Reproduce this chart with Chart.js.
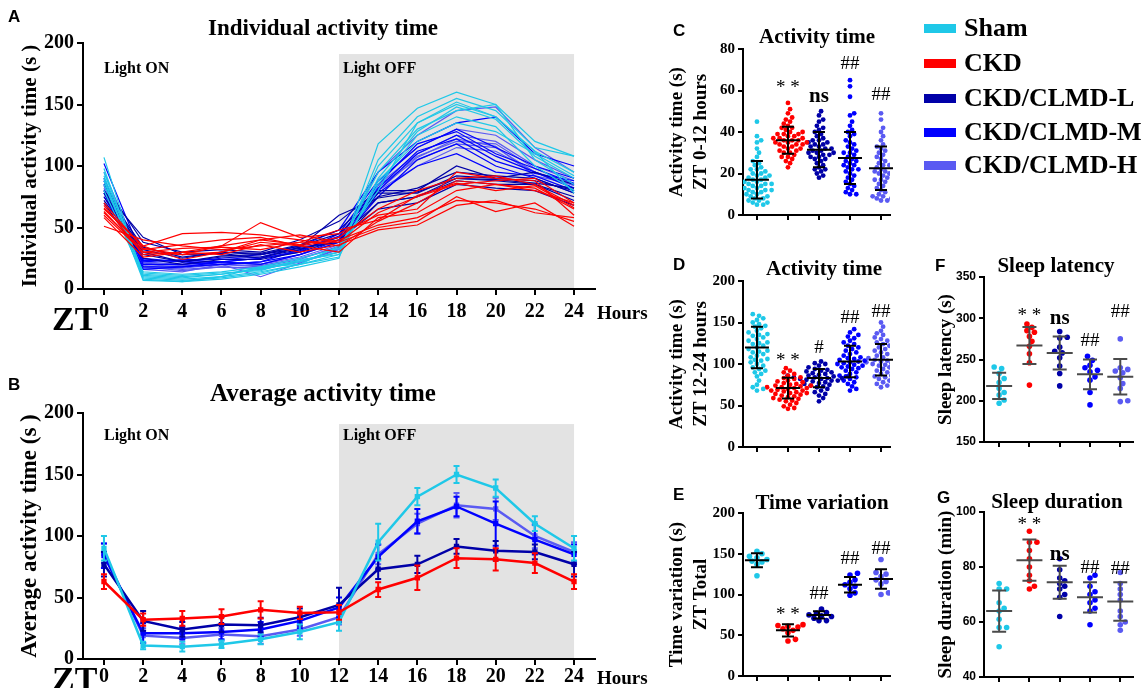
<!DOCTYPE html>
<html>
<head>
<meta charset="utf-8">
<script src="https://cdn.jsdelivr.net/npm/chart.js@4.4.1/dist/chart.umd.min.js"></script>
<style>
  body { margin: 0; background: #fff; }
  #page { position: relative; width: 1146px; height: 688px; overflow: hidden; font-family: "Liberation Serif", serif; }
  canvas { position: absolute; }
  .t { position: absolute; font-weight: bold; white-space: nowrap; line-height: 1; }
  .lab { font-family: "Liberation Sans", sans-serif; font-size: 17px; }
  .ttl { font-size: 23px; transform: translateX(-50%); }
  .ttlb { font-size: 25px; transform: translateX(-50%); }
  .sub { font-size: 21px; transform: translateX(-50%); }
  .light { font-size: 16px; }
  .zt { font-size: 34px; }
  .hrs { font-size: 19px; }
  .leg { position: absolute; left: 924px; font-weight: bold; font-size: 26px; line-height: 1; white-space: nowrap; }
  .leg i { display: inline-block; width: 32px; height: 9px; margin-right: 8px; vertical-align: middle; position: relative; top: -2px; }
</style>
</head>
<body>
<div id="page">
  <canvas id="chartA" width="650" height="330" style="left:0;top:0"></canvas>
  <canvas id="chartB" width="650" height="318" style="left:0;top:370px"></canvas>
  <canvas id="chartC" width="250" height="235" style="left:660px;top:0"></canvas>
  <canvas id="chartD" width="250" height="235" style="left:660px;top:235px"></canvas>
  <canvas id="chartE" width="250" height="218" style="left:660px;top:470px"></canvas>
  <canvas id="chartF" width="236" height="235" style="left:910px;top:235px"></canvas>
  <canvas id="chartG" width="236" height="218" style="left:910px;top:470px"></canvas>

  <div class="t lab" style="left:8px;top:8px">A</div>
  <div class="t ttl" style="left:323px;top:16px">Individual activity time</div>
  <div class="t light" style="left:104px;top:60px">Light ON</div>
  <div class="t light" style="left:343px;top:60px">Light OFF</div>
  <div class="t zt" style="left:52px;top:302px">ZT</div>
  <div class="t hrs" style="left:597px;top:303px">Hours</div>

  <div class="t lab" style="left:8px;top:376px">B</div>
  <div class="t ttlb" style="left:323px;top:380px">Average activity time</div>
  <div class="t light" style="left:104px;top:427px">Light ON</div>
  <div class="t light" style="left:343px;top:427px">Light OFF</div>
  <div class="t zt" style="left:52px;top:662px">ZT</div>
  <div class="t hrs" style="left:597px;top:668px">Hours</div>

  <div class="t lab" style="left:673px;top:22px">C</div>
  <div class="t sub" style="left:817px;top:26px">Activity time</div>
  <div class="t lab" style="left:673px;top:256px">D</div>
  <div class="t sub" style="left:824px;top:258px">Activity time</div>
  <div class="t lab" style="left:673px;top:486px">E</div>
  <div class="t sub" style="left:822px;top:492px">Time variation</div>
  <div class="t lab" style="left:935px;top:257px">F</div>
  <div class="t sub" style="left:1056px;top:255px">Sleep latency</div>
  <div class="t lab" style="left:937px;top:489px">G</div>
  <div class="t sub" style="left:1057px;top:491px">Sleep duration</div>

  <div id="legend"></div>
</div>

<script>
'use strict';

// ZT hours on the x axis of A and B
const zt = [0, 2, 4, 6, 8, 10, 12, 14, 16, 18, 20, 22, 24];
const groups = ['Sham', 'CKD', 'CKD/CLMD-L', 'CKD/CLMD-M', 'CKD/CLMD-H'];
const yTicksAB = [0, 50, 100, 150, 200];

// A: individual mice, activity time (s) at each ZT
const shamLines = [
  [107, 8, 6, 8, 12, 18, 25, 118, 147, 160, 150, 120, 108],
  [98, 10, 8, 10, 14, 20, 28, 105, 140, 155, 145, 115, 108],
  [92, 12, 10, 12, 16, 22, 30, 100, 135, 152, 140, 112, 95],
  [88, 9, 7, 9, 13, 20, 26, 90, 128, 148, 138, 108, 90],
  [85, 14, 12, 14, 18, 25, 33, 95, 130, 145, 150, 105, 85],
  [80, 11, 9, 12, 17, 23, 30, 85, 125, 140, 132, 100, 80],
  [95, 13, 11, 13, 15, 24, 28, 88, 120, 135, 128, 110, 92],
  [90, 7, 6, 10, 18, 20, 35, 80, 135, 150, 140, 112, 78]
];
const ckdLines = [
  [68, 28, 30, 35, 54, 42, 45, 60, 65, 95, 90, 88, 60],
  [65, 35, 45, 46, 44, 40, 35, 55, 70, 88, 85, 80, 70],
  [60, 30, 28, 30, 38, 35, 40, 52, 58, 72, 70, 65, 55],
  [51, 40, 35, 32, 35, 38, 38, 50, 55, 75, 63, 70, 51],
  [70, 33, 28, 35, 40, 36, 42, 65, 80, 90, 92, 85, 68],
  [62, 32, 36, 40, 42, 35, 30, 58, 62, 80, 85, 82, 65],
  [58, 26, 30, 28, 36, 30, 36, 48, 52, 68, 72, 62, 58],
  [66, 35, 24, 30, 40, 44, 38, 62, 75, 85, 88, 90, 70],
  [63, 30, 33, 34, 32, 38, 48, 56, 76, 86, 80, 84, 66]
];
const lowLines = [
  [85, 38, 30, 32, 30, 40, 55, 80, 80, 100, 90, 95, 85],
  [72, 28, 22, 26, 26, 32, 42, 70, 75, 88, 85, 85, 72],
  [78, 32, 25, 30, 28, 35, 45, 75, 82, 95, 92, 90, 78],
  [70, 25, 20, 24, 24, 30, 40, 65, 70, 85, 82, 80, 68],
  [80, 34, 26, 30, 29, 36, 48, 78, 78, 92, 90, 88, 80],
  [75, 30, 22, 27, 28, 33, 38, 70, 75, 90, 88, 85, 75],
  [80, 42, 28, 29, 25, 34, 60, 74, 79, 90, 89, 86, 82]
];
const midLines = [
  [102, 25, 22, 25, 28, 35, 48, 95, 120, 135, 140, 110, 100],
  [90, 20, 20, 22, 25, 30, 45, 88, 115, 130, 115, 100, 90],
  [80, 18, 18, 20, 22, 28, 40, 80, 110, 125, 108, 95, 82],
  [75, 22, 24, 24, 26, 34, 38, 75, 105, 118, 100, 90, 78],
  [85, 24, 22, 20, 22, 32, 42, 85, 118, 128, 110, 98, 86],
  [78, 16, 18, 22, 20, 28, 38, 78, 100, 110, 95, 92, 80],
  [88, 23, 23, 22, 25, 31, 43, 82, 112, 122, 104, 94, 88]
];
const highLines = [
  [95, 22, 20, 22, 20, 28, 38, 95, 125, 145, 148, 115, 95],
  [88, 18, 15, 18, 16, 22, 32, 88, 115, 130, 125, 105, 90],
  [82, 16, 14, 20, 18, 24, 35, 82, 108, 120, 118, 98, 85],
  [78, 20, 18, 22, 20, 26, 36, 80, 100, 115, 112, 95, 82],
  [90, 19, 16, 18, 17, 22, 30, 85, 110, 125, 120, 100, 88],
  [85, 21, 19, 20, 19, 25, 34, 84, 105, 118, 115, 95, 84],
  [84, 17, 17, 20, 10, 21, 33, 80, 107, 122, 116, 92, 85]
];

// B: group mean and SD at each ZT
const shamAvg = [90, 11, 10, 12, 16, 22, 30, 95, 132, 150, 139, 110, 90];
const shamSd  = [10, 3, 4, 3, 4, 6, 7, 15, 7, 7, 7, 6, 10];
const ckdAvg  = [63, 32, 33, 34.5, 40, 37.5, 38, 56.5, 66, 82, 81, 78, 63];
const ckdSd   = [6, 5, 6, 6, 7, 5, 6, 6, 10, 8, 9, 8, 6];
const lowAvg  = [77, 31, 24, 28, 27.5, 34, 44, 73, 77, 91.5, 88, 87, 77];
const lowSd   = [10, 8, 6, 6, 6, 7, 14, 8, 7, 6, 8, 6, 10];
const midAvg  = [84, 21, 21, 22, 24, 31, 42, 83, 112, 124, 110, 97, 85];
const midSd   = [10, 8, 5, 6, 6, 6, 8, 10, 10, 8, 18, 12, 8];
const highAvg = [86, 19, 17, 20, 18.5, 24, 34, 85, 110, 125, 122, 100, 87];
const highSd  = [8, 6, 5, 5, 6, 5, 6, 8, 8, 10, 9, 10, 8];

// C: activity time ZT 0-12 (s), one value per mouse-day
const cSham = [45, 38, 36, 35, 32, 30, 28, 26, 25, 24, 23, 22, 21, 20, 20, 19, 18, 18, 17, 16, 16, 15, 15, 14, 14, 13, 13, 12, 12, 11, 11, 10, 10, 9, 9, 8, 8, 7, 7, 6, 6, 5, 5, 12, 15, 17, 19, 22];
const cCkd  = [54, 51, 49, 47, 46, 45, 44, 43, 42, 42, 41, 40, 40, 39, 39, 38, 38, 37, 37, 36, 36, 36, 35, 35, 35, 34, 34, 33, 33, 32, 32, 31, 31, 30, 30, 29, 28, 28, 27, 26, 25, 23, 37, 34, 39];
const cLow  = [50, 48, 46, 45, 43, 42, 41, 40, 39, 38, 37, 36, 35, 35, 34, 33, 33, 32, 32, 31, 31, 30, 30, 29, 29, 28, 27, 27, 26, 25, 24, 23, 22, 22, 21, 20, 19, 18, 34, 36, 30, 28];
const cMid  = [65, 62, 57, 49, 48, 45, 43, 41, 40, 39, 38, 36, 35, 34, 33, 32, 31, 30, 29, 28, 27, 26, 25, 24, 24, 23, 22, 21, 20, 19, 18, 17, 16, 15, 14, 13, 12, 11, 10, 10, 30, 26, 22];
const cHigh = [49, 46, 42, 40, 38, 36, 34, 33, 32, 31, 30, 29, 28, 27, 26, 25, 24, 23, 22, 21, 21, 20, 19, 18, 17, 16, 15, 14, 13, 12, 11, 10, 9, 9, 8, 8, 7, 7, 24, 20, 17];
const cMean = [17, 36, 31.5, 27.5, 22.5];
const cSd   = [9, 6.5, 8.5, 12.5, 10.5];

// D: activity time ZT 12-24 (s)
const dSham = [160, 158, 155, 153, 150, 148, 146, 145, 143, 140, 138, 136, 134, 132, 130, 128, 126, 124, 122, 120, 118, 116, 114, 112, 110, 108, 106, 104, 102, 100, 98, 96, 94, 92, 90, 88, 85, 80, 75, 72, 70, 68, 125, 115, 135, 105];
const dCkd  = [95, 92, 90, 88, 86, 84, 83, 82, 80, 79, 78, 77, 76, 75, 74, 73, 72, 71, 71, 70, 69, 68, 67, 66, 65, 64, 63, 62, 61, 60, 59, 58, 57, 56, 55, 53, 51, 49, 47, 46, 72, 68, 74, 65];
const dLow  = [103, 101, 100, 98, 96, 94, 93, 92, 91, 90, 89, 88, 87, 86, 85, 85, 84, 84, 83, 83, 82, 82, 81, 80, 79, 78, 77, 76, 75, 74, 73, 72, 70, 68, 66, 64, 62, 59, 55, 86, 80];
const dMid  = [142, 138, 135, 133, 131, 128, 126, 124, 122, 120, 118, 116, 114, 112, 110, 108, 106, 105, 104, 103, 102, 101, 100, 99, 98, 96, 95, 94, 92, 90, 88, 86, 85, 84, 82, 80, 78, 76, 73, 70, 68, 107, 97];
const dHigh = [150, 145, 140, 137, 135, 132, 130, 128, 126, 124, 122, 120, 118, 116, 114, 112, 110, 108, 106, 105, 104, 103, 102, 101, 100, 98, 96, 94, 92, 90, 88, 86, 85, 84, 82, 80, 78, 76, 74, 72, 107, 99];
const dMean = [120, 71, 83, 103, 105];
const dSd   = [25, 12.5, 11, 19, 19];

// E: time variation, ZT total (s)
const eSham = [153, 150, 147, 145, 143, 141, 140, 137, 123];
const eCkd  = [63, 62, 61, 60, 58, 56, 53, 45, 43];
const eLow  = [82, 78, 77, 75, 74, 73, 71, 68, 68];
const eMid  = [126, 124, 118, 115, 112, 110, 107, 102, 99];
const eHigh = [143, 127, 125, 122, 118, 116, 113, 102, 100];
const eMean = [142, 56, 75, 112, 119];
const eSd   = [8.5, 7.5, 4.5, 9.5, 12];

// F: sleep latency (s)
const fSham = [241, 239, 233, 227, 222, 215, 210, 207, 201, 197];
const fCkd  = [293, 289, 285, 283, 278, 272, 266, 257, 246, 219];
const fLow  = [284, 277, 276, 265, 260, 258, 252, 242, 233, 218];
const fMid  = [254, 249, 243, 240, 237, 235, 229, 225, 210, 195];
const fHigh = [275, 240, 238, 236, 234, 228, 221, 215, 200, 199];
const fMean = [218, 267, 258, 232, 229];
const fSd   = [16, 22.5, 20, 18, 21.5];

// G: sleep duration (min)
const gSham = [74, 72, 72, 67, 65, 64, 61, 58, 58, 51];
const gCkd  = [93, 89, 89, 86, 83, 80, 77, 75, 73, 72];
const gLow  = [83, 79, 76, 75, 74, 73, 72, 70, 69, 62];
const gMid  = [77, 76, 73, 71, 70, 68, 67, 65, 64, 59];
const gHigh = [78, 74, 72, 70, 68, 64, 62, 60, 59, 57];
const gMean = [64, 82.5, 74.5, 69, 67.5];
const gSd   = [7.5, 7.5, 6, 5.5, 7];

// significance marks and the value they sit at
const cMarks = ['', '**', 'ns', '##', '##'];   const cMarkY = [0, 63, 57, 73, 58];
const dMarks = ['', '**', '#', '##', '##'];    const dMarkY = [0, 109, 119, 156, 163];
const eMarks = ['', '**', '##', '##', '##'];   const eMarkY = [0, 80, 101, 143, 156];
const fMarks = ['', '**', 'ns', '##', '##'];   const fMarkY = [0, 308, 300, 272, 308];
const gMarks = ['', '**', 'ns', '##', '##'];   const gMarkY = [0, 96.7, 84.5, 79.6, 79.4];

// ---------------------------------------------------------------
const palette = ['#1fc8e8', '#ff0000', '#0000a8', '#0000ff', '#5a5af2'];
const serif = '"Liberation Serif", "Times New Roman", serif';
const sans = '"Liberation Sans", Arial, sans-serif';

Chart.defaults.font.family = serif;
Chart.defaults.font.weight = 'bold';
Chart.defaults.color = '#000';
Chart.defaults.animation = false;

// legend
document.getElementById('legend').innerHTML = groups.map((g, i) =>
  `<div class="leg" style="top:${[15, 50, 85, 119, 152][i]}px"><i style="background:${palette[i]}"></i>${g}</div>`
).join('');

const toXY = vals => vals.map((v, i) => ({x: zt[i], y: v}));

const bandPlugin = {
  id: 'band',
  beforeDraw(chart) {
    const {ctx, scales: {x, y}} = chart;
    const x0 = x.getPixelForValue(12), x1 = x.getPixelForValue(24);
    const y0 = y.getPixelForValue(191), y1 = y.getPixelForValue(0);
    ctx.save();
    ctx.fillStyle = '#e3e3e3';
    ctx.fillRect(x0, y0, x1 - x0, y1 - y0);
    ctx.restore();
  }
};

const errPlugin = {
  id: 'err',
  afterDatasetDraw(chart, args) {
    const ds = chart.data.datasets[args.index];
    if (!ds.sd) return;
    const {ctx, scales: {y}} = chart;
    ctx.save();
    ctx.strokeStyle = ds.borderColor;
    ctx.lineWidth = 2;
    args.meta.data.forEach((pt, i) => {
      const v = ds.data[i].y;
      const top = y.getPixelForValue(v + ds.sd[i]);
      const bot = y.getPixelForValue(v - ds.sd[i]);
      ctx.beginPath();
      ctx.moveTo(pt.x, top); ctx.lineTo(pt.x, bot);
      ctx.moveTo(pt.x - 3, top); ctx.lineTo(pt.x + 3, top);
      ctx.moveTo(pt.x - 3, bot); ctx.lineTo(pt.x + 3, bot);
      ctx.stroke();
    });
    ctx.restore();
  }
};

function axisGrid(len) {
  return {drawOnChartArea: false, drawTicks: true, tickLength: len, color: '#000', lineWidth: 2};
}

function timeChart(id, datasets, yTitle, titleSize, titlePad, tickPad) {
  const cv = document.getElementById(id);
  return new Chart(cv, {
    type: 'line',
    data: {datasets},
    options: {
      responsive: false,
      layout: {padding: {left: 0, top: 43, right: 55, bottom: 0}},
      plugins: {legend: {display: false}, tooltip: {enabled: false}},
      elements: {line: {tension: 0}},
      scales: {
        x: {
          type: 'linear', min: -1.07, max: 25.07,
          afterBuildTicks: s => { s.ticks = zt.map(v => ({value: v})); },
          afterFit: s => { s.height = cv.height - 289; },
          grid: axisGrid(6),
          border: {color: '#000', width: 2},
          ticks: {font: {size: 20, weight: 'bold'}, padding: tickPad, maxRotation: 0}
        },
        y: {
          min: 0, max: 200,
          afterBuildTicks: s => { s.ticks = yTicksAB.map(v => ({value: v})); },
          afterFit: s => { s.width = 83; },
          grid: axisGrid(6),
          border: {color: '#000', width: 2},
          ticks: {font: {size: 20, weight: 'bold'}, padding: 3},
          title: {display: true, text: yTitle, font: {size: titleSize, weight: 'bold'}, padding: {top: titlePad}}
        }
      }
    },
    plugins: [bandPlugin, errPlugin]
  });
}

// A: individual lines (CKD drawn on top)
const lineSets = [ckdLines, shamLines, lowLines, midLines, highLines];
const lineColors = [palette[1], palette[0], palette[2], palette[3], palette[4]];
const aSets = [];
lineSets.forEach((set, g) => set.forEach(vals => aSets.push({
  data: toXY(vals), borderColor: lineColors[g], borderWidth: 1.2, pointRadius: 0, fill: false
})));
timeChart('chartA', aSets, 'Individual activity time (s )', 21, 18, 5);

// B: averages with SD bars
const avgSets = [
  [ckdAvg, ckdSd, palette[1]],
  [shamAvg, shamSd, palette[0]],
  [lowAvg, lowSd, palette[2]],
  [midAvg, midSd, palette[3]],
  [highAvg, highSd, palette[4]]
].map(([m, sd, c]) => ({
  data: toXY(m), sd, borderColor: c, backgroundColor: c, borderWidth: 2.5,
  pointRadius: 2, pointStyle: 'rect', fill: false
}));
timeChart('chartB', avgSets, 'Average activity time (s )', 23, 16, 0);

// dot plots -------------------------------------------------------
function swarm(vals, cat, pxY, pxX, gap) {
  const placed = [];
  return vals.slice().sort((a, b) => a - b).map(v => {
    const py = v * pxY;
    let off = 0;
    for (let k = 0; k < 80; k++) {
      const o = (k % 2 ? 1 : -1) * Math.ceil(k / 2) * gap / 2.2;
      if (placed.every(p => Math.hypot(p.x - o, p.y - py) >= gap)) { off = o; break; }
    }
    placed.push({x: off, y: py});
    return {x: cat + off / pxX, y: v};
  });
}

function statsPlugin(o) {
  return {
    id: 'stats',
    afterDatasetsDraw(chart) {
      const {ctx, scales: {x, y}} = chart;
      ctx.save();
      ctx.strokeStyle = o.barColor;
      ctx.lineWidth = 2;
      o.mean.forEach((m, i) => {
        const cx = x.getPixelForValue(i);
        const ym = y.getPixelForValue(m);
        const yt = y.getPixelForValue(m + o.sd[i]);
        const yb = y.getPixelForValue(m - o.sd[i]);
        ctx.beginPath();
        ctx.moveTo(cx - o.mw, ym); ctx.lineTo(cx + o.mw, ym);
        ctx.moveTo(cx, yt); ctx.lineTo(cx, yb);
        ctx.moveTo(cx - o.cw, yt); ctx.lineTo(cx + o.cw, yt);
        ctx.moveTo(cx - o.cw, yb); ctx.lineTo(cx + o.cw, yb);
        ctx.stroke();
      });
      ctx.fillStyle = '#000';
      ctx.textAlign = 'center';
      ctx.textBaseline = 'middle';
      o.marks.forEach((t, i) => {
        if (!t) return;
        ctx.font = t === 'ns' ? `bold 21px ${serif}` : `19px ${serif}`;
        const ty = y.getPixelForValue(o.markY[i]) + (t === '**' ? 4 : 0);
        ctx.fillText(t === '**' ? '* *' : t, x.getPixelForValue(i), ty);
      });
      ctx.restore();
    }
  };
}

function dotPanel(id, o) {
  const cv = document.getElementById(id);
  const pxY = (o.bottom - o.top) / (o.max - o.min);
  const datasets = o.sets.map((vals, i) => ({
    data: swarm(vals, i, pxY, o.step, o.gap),
    backgroundColor: palette[i], borderWidth: 0, pointRadius: o.r
  }));
  return new Chart(cv, {
    type: 'scatter',
    data: {datasets},
    options: {
      responsive: false,
      layout: {padding: {left: 0, top: o.top, right: cv.width - o.right, bottom: 0}},
      plugins: {legend: {display: false}, tooltip: {enabled: false}},
      scales: {
        x: {
          type: 'linear', min: o.xmin, max: o.xmax,
          afterBuildTicks: s => { s.ticks = groups.map((g, i) => ({value: i})); },
          afterFit: s => { s.height = cv.height - o.bottom; },
          grid: axisGrid(5),
          border: {color: '#000', width: 2},
          ticks: {display: false}
        },
        y: {
          min: o.min, max: o.max,
          afterBuildTicks: s => { s.ticks = o.ticks.map(v => ({value: v})); },
          afterFit: s => { s.width = o.axisX; },
          grid: axisGrid(5),
          border: {color: '#000', width: 2},
          ticks: {font: o.tickFont, padding: 3},
          title: {display: true, text: o.title, font: {size: 19, weight: 'bold', lineHeight: 1.25}, padding: {top: o.titlePad}}
        }
      }
    },
    plugins: [statsPlugin(o)]
  });
}

const serifTick = {family: serif, size: 15, weight: 'bold'};
const sansTick = {family: sans, size: 12, weight: 'bold'};

dotPanel('chartC', {
  sets: [cSham, cCkd, cLow, cMid, cHigh], mean: cMean, sd: cSd, marks: cMarks, markY: cMarkY,
  min: 0, max: 80, ticks: [0, 20, 40, 60, 80], top: 49, bottom: 215, axisX: 83, right: 230,
  xmin: -0.45, xmax: 4.29, step: 31, gap: 4.6, r: 2.4, mw: 12, cw: 6, barColor: '#000',
  title: ['Activity time (s)', 'ZT 0-12 hours'], titlePad: 5, tickFont: serifTick
});
dotPanel('chartD', {
  sets: [dSham, dCkd, dLow, dMid, dHigh], mean: dMean, sd: dSd, marks: dMarks, markY: dMarkY,
  min: 0, max: 200, ticks: [0, 50, 100, 150, 200], top: 46, bottom: 212, axisX: 83, right: 230,
  xmin: -0.45, xmax: 4.29, step: 31, gap: 4.6, r: 2.4, mw: 12, cw: 6, barColor: '#000',
  title: ['Activity time (s)', 'ZT 12-24 hours'], titlePad: 5, tickFont: serifTick
});
dotPanel('chartE', {
  sets: [eSham, eCkd, eLow, eMid, eHigh], mean: eMean, sd: eSd, marks: eMarks, markY: eMarkY,
  min: 0, max: 200, ticks: [0, 50, 100, 150, 200], top: 43, bottom: 209, axisX: 83, right: 230,
  xmin: -0.45, xmax: 4.29, step: 31, gap: 5.5, r: 2.8, mw: 12, cw: 6, barColor: '#000',
  title: ['Time variation (s)', 'ZT Total'], titlePad: 5, tickFont: serifTick
});
dotPanel('chartF', {
  sets: [fSham, fCkd, fLow, fMid, fHigh], mean: fMean, sd: fSd, marks: fMarks, markY: fMarkY,
  min: 150, max: 350, ticks: [150, 200, 250, 300, 350], top: 42, bottom: 207, axisX: 74, right: 223,
  xmin: -0.5, xmax: 4.42, step: 30.3, gap: 5.5, r: 2.8, mw: 13, cw: 7, barColor: '#4a4a4a',
  title: 'Sleep latency (s)', titlePad: 24, tickFont: sansTick
});
dotPanel('chartG', {
  sets: [gSham, gCkd, gLow, gMid, gHigh], mean: gMean, sd: gSd, marks: gMarks, markY: gMarkY,
  min: 40, max: 100, ticks: [40, 60, 80, 100], top: 42, bottom: 207, axisX: 74, right: 223,
  xmin: -0.5, xmax: 4.42, step: 30.3, gap: 5.5, r: 2.8, mw: 13, cw: 7, barColor: '#4a4a4a',
  title: 'Sleep duration (min)', titlePad: 24, tickFont: sansTick
});
</script>
</body>
</html>
